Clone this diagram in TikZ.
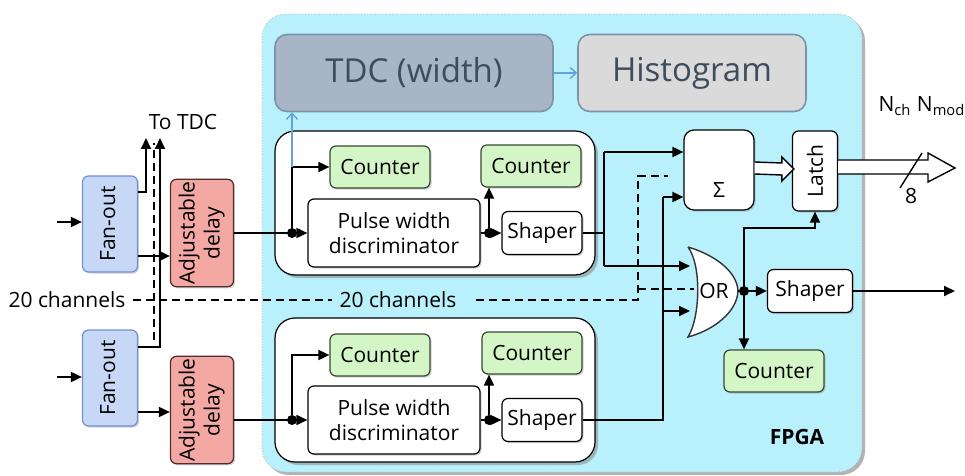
\documentclass[tikz,border=0pt]{standalone}
\usepackage{fontspec}
\setmainfont{Open Sans}
\usepackage{graphicx}
\usetikzlibrary{arrows.meta,calc,shadows}

\definecolor{fpgafill}{RGB}{184,240,252}
\definecolor{tdcfill}{RGB}{168,181,199}
\definecolor{histfill}{RGB}{218,218,218}
\definecolor{boxedge}{RGB}{126,146,168}
\definecolor{boxtext}{RGB}{62,76,94}
\definecolor{cntfill}{RGB}{212,245,198}
\definecolor{cntedge}{RGB}{56,72,50}
\definecolor{fanfill}{RGB}{198,216,246}
\definecolor{fanedge}{RGB}{110,146,210}
\definecolor{dlyfill}{RGB}{244,168,164}
\definecolor{dlyedge}{RGB}{80,44,44}
\definecolor{lightarr}{RGB}{100,160,220}

\newcommand{\vtext}[1]{\rotatebox{90}{\begin{tabular}{@{}c@{}}#1\end{tabular}}}

\begin{document}
\begin{tikzpicture}[x=0.5pt,y=-0.5pt,
  font=\fontsize{10.5}{12.5}\selectfont,
  blk/.style={draw, rounded corners=3pt, line width=0.6pt, inner sep=1pt, align=center,
    drop shadow={shadow xshift=0.8pt,shadow yshift=-0.8pt,opacity=.35}},
  cnt/.style={blk, fill=cntfill, draw=cntedge, minimum width=50pt, minimum height=21pt},
  shp/.style={blk, fill=white, minimum width=40pt, minimum height=21.5pt},
  pwd/.style={blk, fill=white, minimum width=86pt, minimum height=34pt},
  fan/.style={blk, fill=fanfill, draw=fanedge, minimum width=27.5pt, minimum height=48pt},
  dly/.style={blk, fill=dlyfill, draw=dlyedge, minimum width=31.5pt, minimum height=53pt},
  chan/.style={draw, fill=white, rounded corners=10pt, line width=0.6pt, minimum width=160pt, minimum height=72pt,
    drop shadow={shadow xshift=1.5pt,shadow yshift=-1.5pt,opacity=.5}},
  top/.style={draw=boxedge, rounded corners=6pt, line width=0.8pt, text=boxtext, minimum height=38.5pt,
    font=\fontsize{16.5}{19}\selectfont},
  wire/.style={line width=0.9pt},
  arr/.style={wire, -{Triangle[length=5.5pt,width=5pt]}},
  bluearr/.style={lightarr, line width=0.7pt, -{Straight Barb[length=3pt,width=5.5pt]}},
  dashln/.style={line width=0.8pt, dash pattern=on 4pt off 2.5pt},
  dot/.style={circle, fill, inner sep=0pt, minimum size=5pt},
  fat/.style={draw, fill=white, line width=0.7pt}]
  \useasboundingbox (0,0) rectangle (965,476);

  \node[draw=gray!60, densely dotted, fill=fpgafill, rounded corners=12pt, minimum width=300pt, minimum height=229pt,
    drop shadow={shadow xshift=1.5pt,shadow yshift=-1.5pt,opacity=.6}] (fpga) at (562,243) {};
  \node[font=\fontsize{10.5}{12.5}\selectfont\bfseries] (fpgalab) at (797,437) {FPGA};

  \node[top, fill=tdcfill, minimum width=139pt] (tdc) at (414,73) {TDC (width)};
  \node[top, fill=histfill, minimum width=114pt] (hist) at (692,73) {Histogram};
  \draw[bluearr] (tdc) -- (hist);

  \node[chan] (chan1) at (435,203) {};
  \node[chan] (chan2) at (435,390) {};

  \node[fan] (fan1) at (110,224) {\vtext{Fan-out}};
  \node[fan] (fan2) at (110,378) {\vtext{Fan-out}};
  \node[dly] (dly1) at (202,233) {\vtext{Adjustable\\delay}};
  \node[dly] (dly2) at (202,410) {\vtext{Adjustable\\delay}};

  \node[cnt] (cnta1) at (380,167) {Counter};
  \node[cnt] (cntb1) at (531,166) {Counter};
  \node[pwd] (pwd1) at (394,233) {Pulse width\\discriminator};
  \node[shp] (shp1) at (542,233) {Shaper};
  \node[cnt] (cnta2) at (380,355) {Counter};
  \node[cnt] (cntb2) at (532,353) {Counter};
  \node[pwd] (pwd2) at (394,420) {Pulse width\\discriminator};
  \node[shp] (shp2) at (542,420) {Shaper};

  \node[blk, fill=white, rounded corners=5pt, minimum width=35pt, minimum height=40pt] (sum) at (719,170) {};
  \node (sumlab) at (719,190) {Σ};
  \node[blk, fill=white, minimum width=22.5pt, minimum height=40pt] (latch) at (815,171) {\rotatebox{90}{Latch}};
  \node[shp, minimum width=42.5pt] (shp3) at (810,291) {Shaper};
  \node[cnt] (cntor) at (774,371) {Counter};

  \draw[fill=white, line width=0.7pt, draw=gray!40!black] (688,247) .. controls (712,254) and (737,270) .. (738,291)
    .. controls (737,312) and (714,330) .. (688,337) .. controls (700,318) and (702,266) .. (688,247);
  \node (orgate) at (714,291) {OR};

  \node (totdc) at (183,122) {To TDC};
  \node (ch20l) at (67,300) {20 channels};
  \node (ch20m) at (398,300) {20 channels};
  \node (nlab) at (922,106) {N\textsubscript{ch} N\textsubscript{mod}};
  \node (eight) at (911,196) {8};

  \coordinate (in1) at (57,222);
  \coordinate (in2) at (57,377);
  \coordinate (tdc1) at (146,138);
  \coordinate (tdc2) at (160,138);
  \coordinate (dtop) at (154,143);
  \coordinate (dbot) at (154,340);
  \coordinate (ja) at (604,152);
  \coordinate (jb) at (604,266);
  \coordinate (jc) at (663,197);
  \coordinate (orin1) at (690,266);
  \coordinate (orin2) at (690,311);
  \coordinate (orin3) at (694,289);
  \coordinate (ortip) at (738,291);
  \coordinate (jl) at (815,228);
  \coordinate (dj) at (638,300);
  \coordinate (dsum) at (668,176);
  \coordinate (out3) at (955,291);
  \coordinate (bus) at (911,168);
  \node[dot] (dj1) at (292,233) {};
  \node[dot] (dk1) at (489,233) {};
  \node[dot] (dj2) at (292,420) {};
  \node[dot] (dk2) at (489,420) {};
  \node[dot] (dor) at (744,291) {};

  \draw[arr] (in1) -- (in1 -| fan1.west);
  \draw[arr] (in2) -- (in2 -| fan2.west);
  \draw[arr] (fan1.east |- 0,192) -| (tdc1);
  \draw[arr] (fan2.east |- 0,347) -| (tdc2);
  \draw[arr] (fan1.east |- 0,256) -- (dly1.west |- 0,256);
  \draw[arr] (fan2.east |- 0,412) -- (dly2.west |- 0,412);
  \draw[dashln] (dbot) -- (dtop);

  \draw[arr] (dly1) -- (pwd1);
  \draw[arr] (dj1) |- (cnta1);
  \draw[bluearr] (dj1 |- cnta1) -- (dj1 |- tdc.south);
  \draw[arr] (pwd1) -- (shp1);
  \draw[arr] (dk1) -- (dk1 |- cntb1.south);
  \draw[arr] (dly2.east |- pwd2) -- (pwd2);
  \draw[arr] (dj2) |- (cnta2);
  \draw[arr] (pwd2) -- (shp2);
  \draw[arr] (dk2) -- (dk2 |- cntb2.south);

  \draw[wire] (shp1) -- (shp1 -| ja);
  \draw[wire] (ja) -- (jb);
  \draw[arr] (ja) -- (ja -| sum.west);
  \draw[arr] (jb) -- (orin1);
  \draw[wire] (shp2) -| (jc);
  \draw[arr] (jc) -- (jc -| sum.west);
  \draw[arr] (jc |- orin2) -- (orin2);

  \draw[wire] (ortip) -- (dor);
  \draw[arr] (dor) -- (shp3);
  \draw[arr] (dor) -- (dor |- cntor.north);
  \draw[arr] (dor) |- (jl) -- (latch.south);
  \draw[arr] (shp3) -- (out3);

  \draw[dashln] (ch20l.east) -- (ch20m.west);
  \draw[dashln] ([xshift=6pt]ch20m.east) -- (dj) -- (dj |- dsum) -- (dsum);
  \draw[dashln] (dj |- orin3) -- (orin3);

  \draw[fat] ($(sum.east)+(0,-8)$) -- ($(latch.west)+(-10,-8)$) -- ($(latch.west)+(-10,-14)$) -- ($(latch.west)+(2,-2)$)
    -- ($(latch.west)+(-10,10)$) -- ($(latch.west)+(-10,4)$) -- ($(sum.east)+(0,4)$);
  \draw[fat] ($(latch.east)+(0,-11)$) -- ($(bus)+(17,-8)$) -- ($(bus)+(17,-15)$) -- ($(bus)+(44,0)$)
    -- ($(bus)+(17,14)$) -- ($(bus)+(17,6)$) -- ($(latch.east)+(0,3)$);
  \draw[line width=0.7pt] ($(bus)+(11,-15)$) -- ($(bus)+(-11,20)$);
\end{tikzpicture}
\end{document}
